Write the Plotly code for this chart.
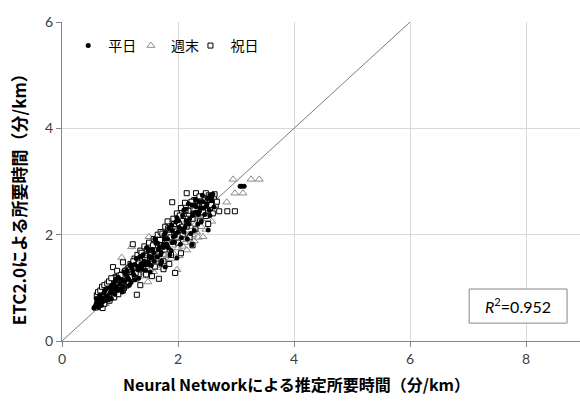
import plotly.graph_objects as go

# 平日 (weekday) observations: estimated vs. ETC2.0 travel time per km
weekday_x = [0.55, 0.58, 0.60, 0.63, 0.66, 0.68, 0.72, 0.75, 0.78, 0.82, 0.85, 0.88, 0.92, 0.96,
             1.00, 1.04, 1.08, 1.12, 1.16, 1.20, 1.24, 1.28, 1.32, 1.36, 1.40, 1.44, 1.48, 1.52,
             1.56, 1.60, 1.64, 1.68, 1.72, 1.76, 1.78, 1.80, 1.84, 1.88, 1.92, 1.96, 1.98, 2.00,
             2.04, 2.08, 2.12, 2.16, 2.20, 2.24, 2.24, 2.28, 2.32, 2.36, 2.40, 2.44, 2.50, 2.52,
             2.55, 2.58, 2.62, 3.07, 3.10, 3.14, 1.50, 1.70, 1.90, 2.10, 0.62, 0.70, 0.80, 0.90,
             1.15, 1.35, 1.55, 1.75, 1.95, 2.15, 2.35,
             0.60, 0.64, 0.67, 0.70, 0.74, 0.77, 0.81, 0.84, 0.87, 0.91, 0.94, 0.97, 1.02, 1.06,
             1.10, 1.14, 1.18, 1.22, 1.26, 1.30, 1.34, 1.38, 1.42, 1.46, 1.50, 1.54, 1.58, 1.62,
             1.66, 1.70, 1.74, 1.78, 1.82, 1.86, 1.90, 1.94, 1.98, 2.02, 2.06, 2.10, 2.14, 2.18,
             2.22, 2.26, 2.30, 2.34, 2.38, 2.42, 2.46, 2.50, 2.54, 2.58, 2.55, 2.60, 2.58,
             0.59, 0.65, 0.71, 0.76, 0.83, 0.89, 0.95, 1.01, 1.07, 1.13, 1.19, 1.25, 1.31, 1.37,
             1.43, 1.49, 1.53, 1.59, 1.65, 1.71, 1.77, 1.83, 1.89, 1.95, 2.01, 2.07, 2.13, 2.19,
             2.25, 2.31, 2.37, 2.43, 2.49]
weekday_y = [0.62, 0.66, 0.74, 0.63, 0.78, 0.67, 0.90, 0.76, 0.82, 1.00, 0.80, 0.97, 1.14, 0.95,
             1.07, 0.92, 1.12, 1.32, 1.05, 1.38, 1.24, 1.55, 1.18, 1.45, 1.62, 1.33, 1.49, 1.30,
             1.72, 1.92, 1.58, 1.76, 1.50, 2.00, 1.39, 1.82, 2.12, 1.70, 1.96, 2.24, 1.56, 2.05,
             1.82, 2.36, 2.14, 1.92, 2.30, 1.81, 2.56, 2.08, 2.42, 2.62, 2.25, 2.50, 2.68, 2.09,
             2.36, 2.70, 2.52, 2.91, 2.91, 2.91, 1.45, 1.62, 1.85, 2.05, 0.72, 0.76, 0.82, 0.98,
             1.16, 1.40, 1.58, 1.76, 1.98, 2.20, 2.38,
             0.70, 0.68, 0.82, 0.74, 0.95, 0.84, 0.78, 0.92, 1.06, 0.88, 1.02, 1.20, 1.14, 1.02,
             1.26, 1.16, 1.44, 1.30, 1.15, 1.40, 1.58, 1.36, 1.50, 1.76, 1.60, 1.42, 1.66, 1.84,
             1.72, 1.45, 1.80, 2.04, 1.92, 1.62, 2.08, 1.86, 2.32, 2.14, 1.94, 2.46, 2.26, 2.58,
             2.02, 2.40, 2.66, 2.20, 2.50, 2.74, 2.38, 2.58, 2.46, 2.64, 2.74, 2.76, 2.73,
             0.80, 0.86, 0.80, 0.98, 0.90, 1.08, 1.16, 0.98, 1.30, 1.20, 1.10, 1.44, 1.34, 1.60,
             1.44, 1.70, 1.56, 1.50, 1.84, 1.66, 1.92, 1.76, 2.18, 2.02, 2.26, 2.10, 2.48, 2.20,
             2.36, 2.54, 2.44, 2.62, 2.54]

# 週末 (weekend) observations
weekend_x = [0.62, 0.70, 0.78, 0.85, 0.92, 1.00, 1.03, 1.08, 1.15, 1.20, 1.22, 1.30, 1.35, 1.40,
             1.45, 1.48, 1.50, 1.52, 1.55, 1.58, 1.60, 1.62, 1.65, 1.68, 1.70, 1.72, 1.75, 1.78,
             1.80, 1.82, 1.85, 1.88, 1.90, 1.92, 1.95, 1.98, 2.00, 2.02, 2.05, 2.08, 2.10, 2.12,
             2.15, 2.18, 2.20, 2.22, 2.25, 2.28, 2.30, 2.32, 2.35, 2.38, 2.40, 2.43, 2.45, 2.48,
             2.50, 2.55, 2.58, 2.60, 2.84, 2.95, 3.26, 3.40, 2.98, 3.12, 1.25, 1.38, 1.10, 0.95,
             1.95, 2.05, 0.75, 0.88, 1.05, 1.28,
             0.66, 0.73, 0.81, 0.90, 0.98, 1.12, 1.18, 1.26, 1.33, 1.42, 1.57, 1.63, 1.73, 1.83,
             1.93, 2.03, 2.13, 2.23, 2.33, 2.42, 2.52, 1.47, 1.67, 1.87, 2.27]
weekend_y = [0.64, 0.72, 0.74, 0.80, 0.88, 0.95, 1.57, 1.02, 1.12, 1.77, 1.18, 1.20, 1.30, 1.28,
             1.40, 1.11, 1.96, 1.35, 1.48, 1.30, 1.85, 1.42, 1.55, 1.38, 1.70, 1.50, 1.62, 1.45,
             1.88, 1.60, 1.72, 1.55, 1.80, 1.65, 1.95, 1.34, 1.75, 1.60, 1.90, 1.78, 2.05, 1.85,
             1.71, 2.00, 1.90, 2.15, 2.00, 1.88, 2.20, 2.05, 1.95, 2.30, 2.15, 1.96, 2.35, 2.10,
             2.30, 2.45, 2.25, 2.55, 2.61, 3.04, 3.04, 3.04, 2.78, 2.78, 1.50, 1.60, 1.35, 1.10,
             2.25, 2.40, 0.70, 0.85, 1.00, 1.25,
             0.66, 0.70, 0.82, 0.90, 1.05, 1.08, 1.22, 1.15, 1.42, 1.22, 1.62, 1.72, 1.80, 1.88,
             2.02, 2.12, 2.22, 2.28, 2.35, 2.40, 2.48, 1.70, 1.90, 2.10, 2.45]

# 祝日 (holiday) observations
holiday_x = [0.58, 0.62, 0.65, 0.68, 0.70, 0.72, 0.75, 0.78, 0.80, 0.82, 0.85, 0.88, 0.90, 0.63,
             0.67, 0.72, 0.76, 0.80, 0.84, 0.88, 0.92, 0.95, 0.98, 1.00, 1.02, 1.05, 1.08, 1.10,
             1.12, 1.15, 1.18, 1.20, 1.22, 1.25, 1.28, 1.29, 1.30, 1.32, 1.35, 1.38, 1.40, 1.42,
             1.45, 1.48, 1.50, 1.52, 1.55, 1.58, 1.60, 1.62, 1.65, 1.67, 1.68, 1.70, 1.72, 1.75,
             1.78, 1.80, 1.82, 1.85, 1.88, 1.90, 1.92, 1.95, 1.95, 1.98, 2.00, 2.02, 2.05, 2.08,
             2.10, 2.12, 2.15, 2.15, 2.18, 2.20, 2.22, 2.25, 2.28, 2.30, 2.31, 2.32, 2.35, 2.38,
             2.40, 2.42, 2.45, 2.48, 2.48, 2.50, 2.52, 2.55, 2.58, 2.60, 2.62, 2.65, 2.71, 2.85,
             2.98, 1.05, 0.95, 1.15, 1.35, 1.45, 1.55, 1.75, 1.85, 2.05, 2.25, 0.60, 0.66, 0.74,
             0.70, 0.78, 0.82, 0.86,
             0.64, 0.69, 0.73, 0.77, 0.83, 0.87, 0.93, 0.99, 1.03, 1.07, 1.13, 1.17, 1.23, 1.27,
             1.33, 1.37, 1.43, 1.47, 1.53, 1.57, 1.63, 1.69, 1.73, 1.77, 1.83, 1.87, 1.93, 1.97,
             2.03, 2.07, 2.13, 2.17, 2.23, 2.27, 2.33, 2.37, 2.43, 2.47, 2.53, 2.57, 2.63, 2.67,
             0.60, 0.62, 0.66, 0.69, 0.73, 0.78, 0.81, 0.85, 0.90, 0.94, 0.97, 1.01, 1.06, 1.09]
holiday_y = [0.63, 0.70, 0.66, 0.75, 0.80, 0.70, 0.85, 0.78, 0.92, 0.86, 0.98, 0.90, 1.05, 0.78,
             0.88, 0.95, 1.00, 1.08, 1.12, 1.39, 1.20, 1.10, 1.25, 1.02, 1.15, 0.95, 1.30, 1.22,
             1.05, 1.38, 1.45, 1.30, 1.82, 1.55, 1.40, 0.87, 1.62, 1.25, 1.70, 1.50, 1.35, 1.78,
             1.60, 1.45, 1.85, 1.70, 1.55, 1.92, 1.40, 1.80, 2.00, 1.17, 1.65, 2.05, 1.90, 1.50,
             2.15, 1.78, 2.25, 2.00, 1.62, 2.61, 2.30, 1.28, 2.10, 2.40, 1.85, 2.20, 2.50, 2.00,
             2.35, 2.60, 2.78, 2.15, 2.45, 1.95, 2.55, 2.30, 2.65, 2.10, 2.78, 2.40, 2.60, 2.25,
             2.70, 2.45, 2.55, 2.78, 2.35, 2.65, 2.20, 2.50, 2.62, 2.40, 2.70, 2.55, 2.44, 2.44,
             2.44, 1.48, 1.32, 1.10, 1.05, 1.25, 1.22, 1.35, 1.45, 1.65, 1.80, 0.68, 0.72, 0.82,
             0.62, 0.90, 0.76, 0.84,
             0.74, 0.86, 0.70, 0.95, 0.84, 1.02, 1.18, 1.06, 1.22, 1.00, 1.34, 1.20, 1.50, 1.28,
             1.46, 1.66, 1.52, 1.72, 1.62, 1.80, 1.55, 1.90, 2.02, 1.72, 2.12, 1.95, 2.20, 2.06,
             2.36, 2.15, 2.46, 2.30, 2.62, 2.40, 2.54, 2.72, 2.42, 2.66, 2.74, 2.56, 2.76, 2.62,
             0.86, 0.92, 0.95, 1.02, 1.05, 1.08, 1.12, 1.18, 0.82, 1.15, 0.88, 1.24, 1.02, 1.32]

# 1:1 reference line
diag = [0, 6]

r2_text = "<i>R</i><sup>2</sup>=0.952"
x_title = "<b>Neural Networkによる推定所要時間（分/km）</b>"
y_title = "<b>ETC2.0による所要時間（分/km）</b>"
x_ticks = [0, 2, 4, 6, 8]
y_ticks = [0, 2, 4, 6]

font_family = "Lato, 'Noto Sans CJK JP', sans-serif"
title_family = "'Noto Sans CJK JP', sans-serif"

fig = go.Figure()
fig.add_trace(go.Scatter(x=diag, y=diag, mode="lines", showlegend=False,
                         line=dict(color="#595959", width=0.8), hoverinfo="skip"))
fig.add_trace(go.Scatter(x=weekend_x, y=weekend_y, mode="markers", name="週末", legend="legend2",
                         marker=dict(symbol="triangle-up-open", size=7, color="#8c8c8c",
                                     line=dict(width=1, color="#8c8c8c"))))
fig.add_trace(go.Scatter(x=holiday_x, y=holiday_y, mode="markers", name="祝日", legend="legend3",
                         marker=dict(symbol="square", size=5, color="white",
                                     line=dict(width=1, color="black"))))
fig.add_trace(go.Scatter(x=weekday_x, y=weekday_y, mode="markers", name="平日", legend="legend",
                         marker=dict(symbol="circle", size=5, color="black")))

axis_common = dict(showgrid=True, gridcolor="#d9d9d9", gridwidth=1, zeroline=False,
                   showline=True, linecolor="#868686", linewidth=1,
                   ticks="outside", ticklen=5, tickcolor="#868686",
                   tickfont=dict(size=14, color="#404040", family=font_family))

fig.update_xaxes(range=[0, 8.93], tickvals=x_ticks, ticktext=[str(v) for v in x_ticks],
                 **axis_common)
fig.update_yaxes(range=[0, 6], tickvals=y_ticks, ticktext=[str(v) for v in y_ticks],
                 **axis_common)

# axis titles
fig.add_annotation(xref="paper", yref="paper", x=0.452, y=-0.135, xanchor="center",
                   yanchor="middle", text=x_title, showarrow=False,
                   font=dict(size=16, color="#000000", family=title_family))
fig.add_annotation(xref="paper", yref="paper", x=-0.085, y=0.457, xanchor="center",
                   yanchor="middle", text=y_title, showarrow=False, textangle=-90,
                   font=dict(size=17, color="#000000", family=title_family))

# R² box
fig.add_shape(type="rect", xref="paper", yref="paper", x0=0.786, x1=0.975, y0=0.056, y1=0.163,
              line=dict(color="#868686", width=1), fillcolor="white", layer="above")
fig.add_annotation(xref="paper", yref="paper", x=0.880, y=0.110, xanchor="center",
                   yanchor="middle", text=r2_text, showarrow=False,
                   font=dict(size=16, color="#000000", family=font_family))

legend_common = dict(orientation="h", y=0.975, xanchor="left", yanchor="top",
                     bgcolor="rgba(255,255,255,0)",
                     font=dict(size=14, color="#000000", family=title_family),
                     itemwidth=30)

fig.update_layout(
    width=580, height=403,
    margin=dict(l=62, r=0, t=22, b=62),
    paper_bgcolor="white", plot_bgcolor="white",
    font=dict(family=font_family, color="#262626"),
    legend=dict(x=0.012, **legend_common),
    legend2=dict(x=0.133, **legend_common),
    legend3=dict(x=0.248, **legend_common),
)

fig.write_html("out.html")
